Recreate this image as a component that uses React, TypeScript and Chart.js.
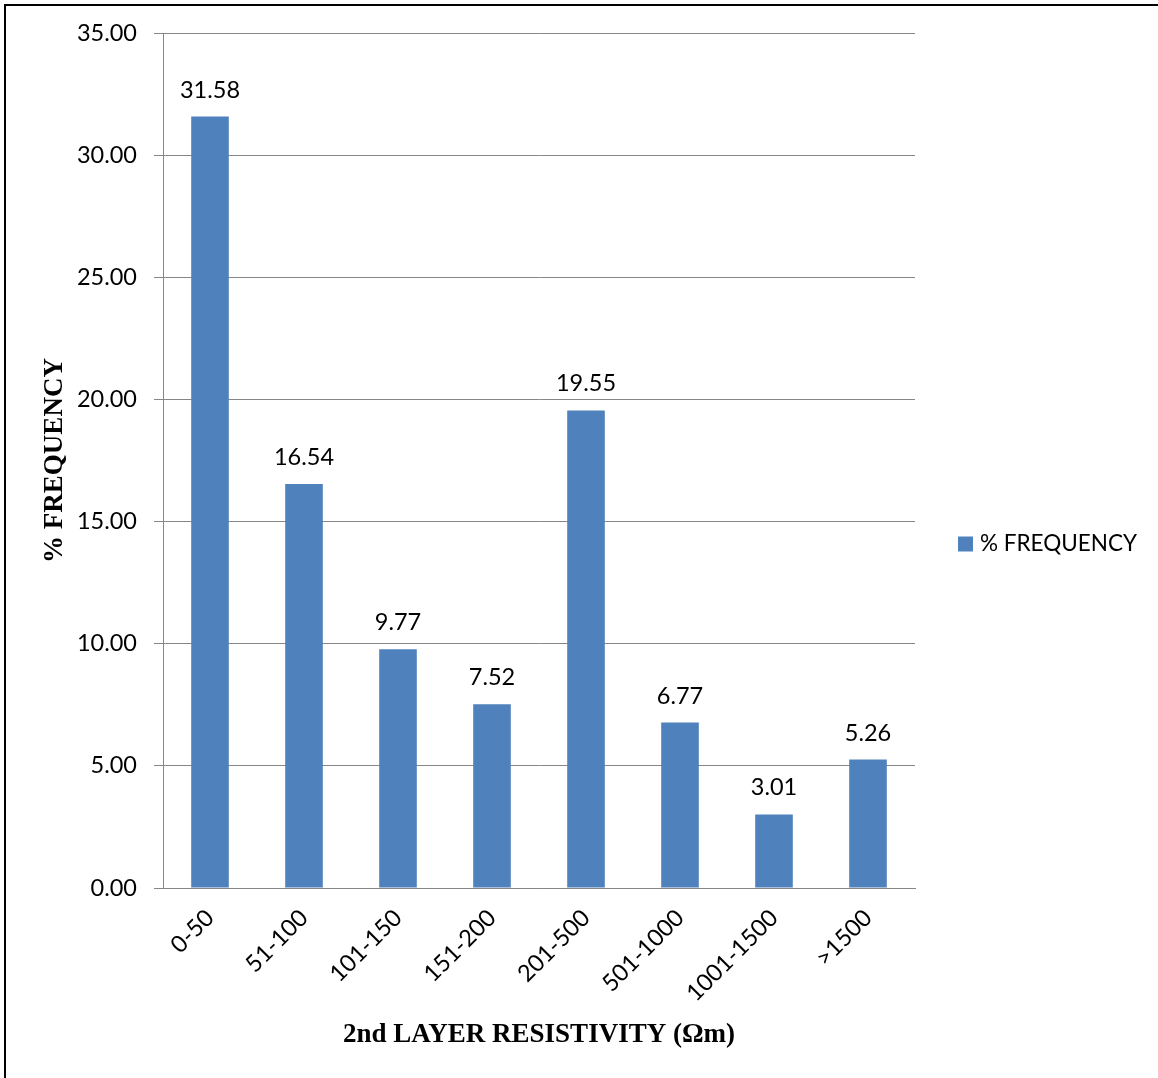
import React, { useEffect, useRef } from "react";
import { Chart, registerables } from "chart.js";

Chart.register(...registerables);

const categories = ["0-50", "51-100", "101-150", "151-200", "201-500", "501-1000", "1001-1500", ">1500"];
const frequency = [31.58, 16.54, 9.77, 7.52, 19.55, 6.77, 3.01, 5.26];
const seriesLabel = "% FREQUENCY";
const xTitle = "2nd LAYER RESISTIVITY (\u03A9m)";
const yTitle = "% FREQUENCY";
const yMin = 0;
const yMax = 35;
const yStep = 5;

const BAR = "#4F81BD";
const GRID = "#878787";
const TICK_FONT = "Lato";
const TITLE_FONT = "'Liberation Serif'";

const dataLabels = {
  id: "dataLabels",
  afterDatasetsDraw(chart: any) {
    const ctx = chart.ctx;
    const meta = chart.getDatasetMeta(0);
    ctx.save();
    ctx.font = `23.5px ${TICK_FONT}`;
    ctx.fillStyle = "#000";
    ctx.textAlign = "center";
    ctx.textBaseline = "alphabetic";
    meta.data.forEach((bar: any, i: number) => {
      const v = chart.data.datasets[0].data[i] as number;
      ctx.fillText(v.toFixed(2), bar.x, bar.y - 19);
    });
    ctx.restore();
  },
};

const sideLegend = {
  id: "sideLegend",
  afterDraw(chart: any) {
    const ctx = chart.ctx;
    const ds = chart.data.datasets[0];
    const x = chart.chartArea.right + 43;
    const cy = chart.height / 2 + 5;
    ctx.save();
    ctx.fillStyle = ds.backgroundColor;
    ctx.fillRect(x, cy - 7.5, 15, 15);
    ctx.fillStyle = "#000";
    ctx.font = `22.5px ${TICK_FONT}`;
    ctx.textAlign = "left";
    ctx.textBaseline = "middle";
    ctx.fillText(ds.label, x + 22, cy);
    ctx.restore();
  },
};

export default function App() {
  const ref = useRef<HTMLCanvasElement | null>(null);

  useEffect(() => {
    if (!ref.current) return;
    const chart = new Chart(ref.current, {
      type: "bar",
      data: {
        labels: categories,
        datasets: [
          {
            label: seriesLabel,
            data: frequency,
            backgroundColor: BAR,
            borderWidth: 0,
            categoryPercentage: 1,
            barPercentage: 0.4,
          },
        ],
      },
      options: {
        animation: false,
        responsive: false,
        maintainAspectRatio: false,
        layout: { padding: { left: 35, top: 33, right: 243, bottom: 23 } },
        plugins: {
          legend: { display: false },
          tooltip: { enabled: false },
        },
        scales: {
          x: {
            grid: { display: false, drawTicks: false, tickLength: 0 },
            border: { display: true, color: GRID, width: 1 },
            ticks: {
              color: "#000",
              font: { family: TICK_FONT, size: 23.5 },
              maxRotation: 45,
              minRotation: 45,
              padding: 16,
              autoSkip: false,
            },
            title: {
              display: true,
              text: xTitle,
              color: "#000",
              font: { family: TITLE_FONT, size: 27, weight: "bold" },
              padding: { top: 4, bottom: 4 },
            },
            afterFit(scale: any) {
              scale.height = 1055 - 888;
            },
          },
          y: {
            min: yMin,
            max: yMax,
            grid: { color: GRID, lineWidth: 1, tickLength: 9, drawTicks: true },
            border: { display: true, color: GRID, width: 1 },
            ticks: {
              stepSize: yStep,
              color: "#000",
              font: { family: TICK_FONT, size: 23.5 },
              padding: 17,
              callback: (v: any) => Number(v).toFixed(2),
            },
            title: {
              display: true,
              text: yTitle,
              color: "#000",
              font: { family: TITLE_FONT, size: 27, weight: "bold" },
              padding: { top: 4, bottom: 4 },
            },
            afterFit(scale: any) {
              scale.width = 163 - 35;
            },
          },
        },
      },
      plugins: [dataLabels, sideLegend],
    });
    return () => chart.destroy();
  }, []);

  return (
    <div
      style={{
        position: "absolute",
        left: 0,
        top: 0,
        width: 1158,
        height: 1078,
        overflow: "hidden",
        background: "#fff",
      }}
    >
      <canvas ref={ref} width={1158} height={1078} style={{ position: "absolute", left: 0, top: 0 }} />
      <div
        style={{
          position: "absolute",
          left: 4,
          top: 4,
          width: 1160,
          height: 1080,
          borderLeft: "2px solid #000",
          borderTop: "2px solid #000",
          pointerEvents: "none",
        }}
      />
    </div>
  );
}
